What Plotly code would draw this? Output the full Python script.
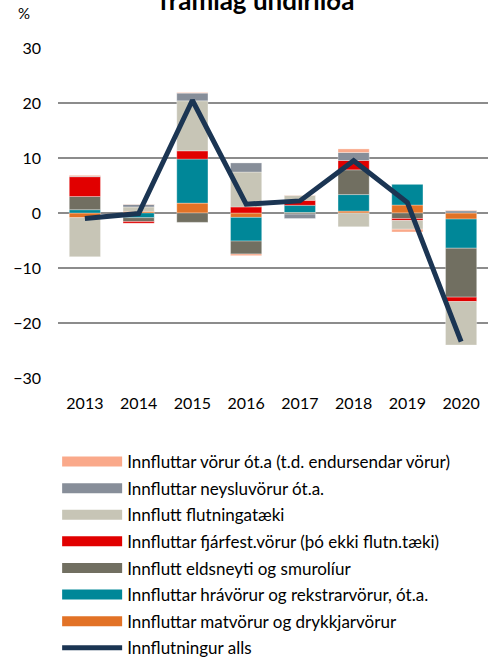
import plotly.graph_objects as go

years = ["2013", "2014", "2015", "2016", "2017", "2018", "2019", "2020"]

matvorur = [-0.85, 0.3, 1.8, -0.8, 0.1, 0.35, 1.45, -1.1]
hravorur = [0.6, -0.85, 8.0, -4.3, 1.3, 3.0, 3.8, -5.3]
eldsneyti = [2.4, -0.7, -1.7, -2.35, -0.2, 4.5, -1.0, -8.9]
fjarfest = [3.6, -0.3, 1.5, 1.1, 0.9, 1.7, -0.35, -0.8]
flutningataeki = [-7.1, 0.8, 9.1, 6.35, 0.9, -2.5, -1.6, -7.9]
neysluvorur = [0.1, 0.45, 1.4, 1.65, -0.8, 1.45, 0.0, 0.4]
adrar_vorur = [0.15, 0.05, 0.1, -0.3, 0.05, 0.65, -0.5, 0.1]
innflutningur_alls = [-1.0, -0.1, 20.5, 1.6, 2.2, 9.5, 1.9, -23.4]

y_ticks = [-30, -20, -10, 0, 10, 20, 30]

series = [
    ("Innfluttar matvörur og drykkjarvörur", matvorur, "#E27226"),
    ("Innfluttar hrávörur og rekstrarvörur, ót.a.", hravorur, "#008798"),
    ("Innflutt eldsneyti og smurolíur", eldsneyti, "#716F61"),
    ("Innfluttar fjárfest.vörur (þó ekki flutn.tæki)", fjarfest, "#E10000"),
    ("Innflutt flutningatæki", flutningataeki, "#C7C5B6"),
    ("Innfluttar neysluvörur ót.a.", neysluvorur, "#878E99"),
    ("Innfluttar vörur ót.a (t.d. endursendar vörur)", adrar_vorur, "#FAA98A"),
]

FONT = "Lato"
line_color = "#1B3553"
n = len(series)

fig = go.Figure()

for i, (name, vals, color) in enumerate(series):
    fig.add_trace(go.Bar(
        x=years, y=vals, name=name,
        marker=dict(color=color, line=dict(width=0.5, color="rgba(255,255,255,0.6)")),
        showlegend=False,
    ))

# total line
fig.add_trace(go.Scatter(
    x=years, y=innflutningur_alls, mode="lines",
    name="Innflutningur alls", legendgroup="alls", legendrank=100,
    line=dict(color=line_color, width=5),
))

# legend-only swatches (wide bars as in the reference)
for i, (name, vals, color) in enumerate(series):
    fig.add_trace(go.Scatter(
        x=[None], y=[None], mode="lines", name=name, legendgroup=f"g{i}",
        legendrank=n - i, line=dict(color=color, width=10), hoverinfo="skip",
    ))

fig.update_layout(
    width=494, height=657,
    barmode="relative",
    bargap=0.42,
    plot_bgcolor="white", paper_bgcolor="white",
    margin=dict(l=58, r=6, t=48, b=279, autoexpand=False),
    font=dict(family=FONT, size=16, color="#000000"),
    title=dict(text="<b>framlag undirliða</b>", x=0.52, xanchor="center",
               y=1 - 10/657, yanchor="bottom", yref="container",
               font=dict(family=FONT, size=26, color="#000000")),
    xaxis=dict(range=[-0.5, 7.5], showgrid=False, ticks="", showline=False,
               tickfont=dict(size=16), ticklabelstandoff=14),
    yaxis=dict(range=[-30, 30], tickvals=y_ticks, showgrid=True, gridcolor="#8C8C8C",
               gridwidth=2, zeroline=True, zerolinecolor="#8C8C8C", zerolinewidth=2,
               ticklabelstandoff=16, tickfont=dict(size=16), showline=False),
    legend=dict(x=-0.002, xanchor="left", y=1 - 444/657, yref="container", yanchor="top",
                traceorder="grouped", tracegroupgap=1.5,
                font=dict(family=FONT, size=17), itemwidth=60,
                bgcolor="rgba(0,0,0,0)"),
    showlegend=True,
)
fig.add_annotation(text="%", xref="paper", yref="paper",
                   x=(24 - 58) / 430, y=1 + (48 - 13) / 330,
                   showarrow=False, font=dict(size=15), xanchor="center", yanchor="middle")

fig.write_html("out.html", config={"displayModeBar": False},
               post_script="document.body.style.margin='0';document.body.style.overflow='hidden';")
